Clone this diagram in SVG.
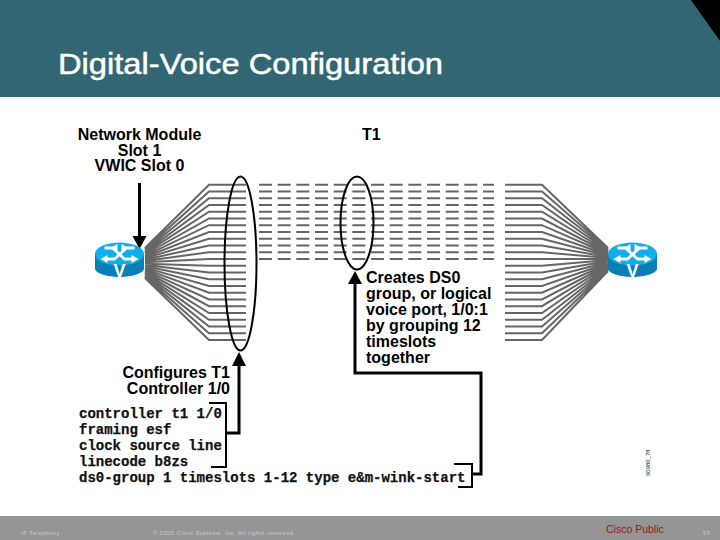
<svg xmlns="http://www.w3.org/2000/svg" xmlns:xlink="http://www.w3.org/1999/xlink" width="720" height="540" viewBox="0 0 720 540">
<style>
.lb{font:bold 16px "Liberation Sans",Arial,sans-serif;fill:#000}
.m{font:bold 14px "Liberation Mono","Courier New",monospace;fill:#111;stroke:#111;stroke-width:.25}
.w{fill:none;stroke:#666;stroke-width:2}
.d{fill:none;stroke:#666;stroke-width:2;stroke-dasharray:13 5.67}
.k{fill:none;stroke:#000;stroke-width:2}
.a{fill:none;stroke:#000;stroke-width:3}
.f{font:5.500px "Liberation Sans",Arial,sans-serif;fill:#d0d0d0;letter-spacing:.6px}
</style>
<defs>
<g id="router">
<path d="M-24.500 -15V-0.500C-24.500 4 -13 8 0 8S24.500 4 24.500 -0.500V-15Z" fill="#0a7fb5"/>
<ellipse cx="0" cy="-15" rx="24.500" ry="11.500" fill="#12aeea"/>
<g fill="none" stroke="#fff" stroke-width="2.800">
<path d="M-15 -21L-7 -21L5 -10L15 -10"/>
<path d="M15 -21L7 -21L-5 -10L-15 -10"/>
</g>
<g fill="#fff">
<path d="M-19 -10L-12 -14V-6Z"/><path d="M19 -10L12 -14V-6Z"/>
<path d="M-2 -25L-9 -21L-2 -17Z"/><path d="M2 -25L9 -21L2 -17Z"/>
</g>
<text x="0" y="8" text-anchor="middle" style="font:bold 18px 'Liberation Sans',sans-serif;fill:#fff">V</text>
</g>
</defs>
<rect width="720" height="540" fill="#fff"/>
<g id="header">
<rect width="720" height="97" fill="#336673"/>
<path d="M691 0H720V41Z" fill="#000"/>
<text x="58" y="74" style="font:30px 'Liberation Sans',Arial,sans-serif;fill:#fff;stroke:#fff;stroke-width:.5" textLength="385" lengthAdjust="spacingAndGlyphs">Digital-Voice Configuration</text>
</g>
<g id="footer">
<rect y="516" width="720" height="24" fill="#959595"/>
<text class="f" x="21" y="535">IP Telephony</text>
<text class="f" x="153" y="535">© 2005 Cisco Systems, Inc. All rights reserved.</text>
<text x="606" y="533" style="font:10.500px 'Liberation Sans',Arial,sans-serif;fill:#8b1a2a">Cisco Public</text>
<text class="f" x="703" y="535">59</text>
</g>
<g id="connectors">
<path class="w" d="M145 248L209 184.700H246M145 249.300L209 191.500H246M145 250.600L209 198.200H246M145 251.900L209 205H246M145 253.200L209 211.700H246M145 254.500L209 218.500H246M145 255.800L209 225.200H246M145 257.100L209 232H246M145 258.400L209 238.700H246M145 259.700L209 245.500H246M145 261L209 252.200H246M145 262.300L209 259H246M145 263.700L209 265.700H246M145 265L209 272.500H246M145 266.300L209 279.200H246M145 267.600L209 286H246M145 268.900L209 292.700H246M145 270.200L209 299.500H246M145 271.500L209 306.200H246M145 272.800L209 313H246M145 274.100L209 319.700H246M145 275.400L209 326.500H246M145 276.700L209 333.200H246M145 278L209 340H246"/>
<path class="w" d="M608 248L542 184.700H505M608 249L542 191.500H505M608 250L542 198.200H505M608 251L542 205H505M608 252L542 211.700H505M608 253L542 218.500H505M608 254L542 225.200H505M608 255L542 232H505M608 256L542 238.700H505M608 257L542 245.500H505M608 258L542 252.200H505M608 259L542 259H505M608 260L542 265.700H505M608 261L542 272.500H505M608 262L542 279.200H505M608 263L542 286H505M608 264L542 292.700H505M608 265L542 299.500H505M608 266L542 306.200H505M608 267L542 313H505M608 268L542 319.700H505M608 269L542 326.500H505M608 270L542 333.200H505M608 271L542 340H505"/>
<path class="d" d="M259 184.700H494M259 191.500H494M259 198.200H494M259 205H494M259 211.700H494M259 218.500H494M259 225.200H494M259 232H494M259 238.700H494M259 245.500H494M259 252.200H494M259 259H494"/>
<ellipse cx="240.500" cy="263.500" rx="16" ry="87" fill="none" stroke="#000" stroke-width="2"/>
<ellipse cx="357" cy="223" rx="16.500" ry="46.500" fill="none" stroke="#000" stroke-width="2"/>
<path class="a" d="M139.500 183V238"/>
<path d="M132.500 236H146.500L139.500 249Z" fill="#000"/>
<path class="k" d="M209 403H226V467H211"/>
<path class="a" d="M227 433H239V363"/>
<path d="M232 366H246L239 352Z" fill="#000"/>
<path class="a" d="M473 474H481V373H355V282"/>
<path d="M348 284H362L355 271Z" fill="#000"/>
<path class="k" d="M454 464H472V487H458"/>
</g>
<g id="router-left"><use xlink:href="#router" x="119.500" y="269"/></g>
<g id="router-right"><use xlink:href="#router" x="632.500" y="269"/></g>
<g id="labels">
<text class="lb" text-anchor="middle" x="139.500" y="140">Network Module</text>
<text class="lb" text-anchor="middle" x="139.500" y="155.500">Slot 1</text>
<text class="lb" text-anchor="middle" x="139.500" y="171">VWIC Slot 0</text>
<text class="lb" x="362" y="140">T1</text>
<text class="lb" x="366" y="283">Creates DS0</text>
<text class="lb" x="366" y="299">group, or logical</text>
<text class="lb" x="366" y="315">voice port, 1/0:1</text>
<text class="lb" x="366" y="331">by grouping 12</text>
<text class="lb" x="366" y="347">timeslots</text>
<text class="lb" x="366" y="363">together</text>
<text class="lb" text-anchor="end" x="230" y="378">Configures T1</text>
<text class="lb" text-anchor="end" x="230" y="394">Controller 1/0</text>
<text class="m" x="79" y="418">controller t1 1/0</text>
<text class="m" x="79" y="434">framing esf</text>
<text class="m" x="79" y="450">clock source line</text>
<text class="m" x="79" y="466">linecode b8zs</text>
<text class="m" x="79" y="482">ds0-group 1 timeslots 1-12 type e&amp;m-wink-start</text>
<text transform="translate(650 476) rotate(-90)" style="font:6px 'Liberation Sans',Arial,sans-serif;fill:#222">60980_78</text>
</g>
</svg>
